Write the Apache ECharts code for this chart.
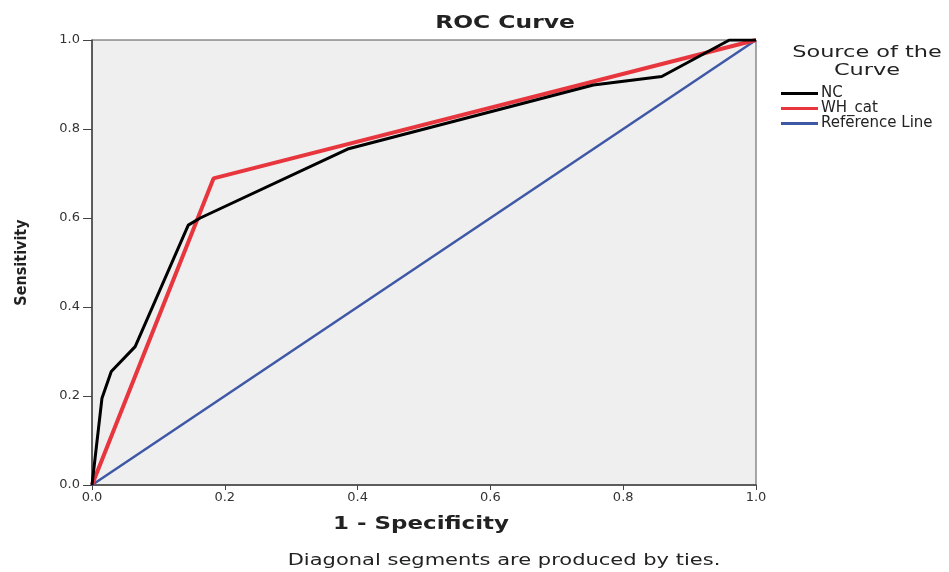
<!DOCTYPE html>
<html>
<head>
    <meta charset="utf-8">
    <title>ROC Curve</title>
    <script src="https://cdn.jsdelivr.net/npm/echarts@6/dist/echarts.min.js"></script>
    <style type="text/css">
        html, body { margin: 0; padding: 0; background: #fff; }
        #main { width: 949px; height: 572px; }
    </style>
</head>
<body>
<div id="main"></div>
<script type="text/javascript">
    // values
    var axisTicks = [0, 0.2, 0.4, 0.6, 0.8, 1.0];
    var ncFpr = [0, 0.015, 0.029, 0.065, 0.145, 0.163, 0.385, 0.755, 0.858, 0.96, 1.0];
    var ncTpr = [0, 0.195, 0.255, 0.311, 0.584, 0.600, 0.755, 0.899, 0.918, 1.0, 1.0];
    var whFpr = [0, 0.183, 1.0];
    var whTpr = [0, 0.689, 1.0];
    var refX = [0, 1];
    var refY = [0, 1];

    function pairs(xs, ys) {
        return xs.map(function (x, i) { return [x, ys[i]]; });
    }

    // the source picture is stretched sideways, so texts get a scaleX
    function wideText(x, y, text, size, weight, sx) {
        return {type: 'text', x: x, y: y, scaleX: sx,
            style: {text: text, fontSize: size, fontWeight: weight || 'normal', fill: '#222',
                fontFamily: 'DejaVu Sans', textAlign: 'center', textVerticalAlign: 'middle'}};
    }

    var chart = echarts.init(document.getElementById('main'));
    function tickFont(gap) {
        return {color: '#333', fontSize: 13, fontFamily: 'DejaVu Sans', margin: gap,
            formatter: function (v) { return v.toFixed(1); }};
    }

    chart.setOption({
        animation: false,
        backgroundColor: '#fff',
        grid: {left: 92, right: 193, top: 40, bottom: 87, show: true,
            backgroundColor: '#efefef', borderColor: '#555', borderWidth: 1},
        legend: {
            orient: 'vertical', left: 776, top: 81, itemGap: 0,
            itemWidth: 37, itemHeight: 3, icon: 'rect',
            textStyle: {fontSize: 15, color: '#222', fontFamily: 'DejaVu Sans', padding: [0, 0, 0, -2]},
            data: ['NC', 'WH_cat', 'Reference Line']
        },
        graphic: [
            wideText(505, 23, 'ROC Curve', 18, 'bold', 1.3),
            wideText(867, 53, 'Source of the', 16, 'normal', 1.4),
            wideText(867, 71, 'Curve', 16, 'normal', 1.4),
            wideText(421, 525, '1 - Specificity', 17, 'bold', 1.35),
            wideText(504, 561, 'Diagonal segments are produced by ties.', 15, 'normal', 1.4)
        ],
        xAxis: {
            type: 'value', min: 0, max: 1, interval: 0.2,
            axisLine: {show: true, lineStyle: {color: '#444', width: 1.5}},
            axisTick: {show: true, inside: false, length: 5, lineStyle: {color: '#444'}},
            axisLabel: tickFont(6),
            splitLine: {show: false}
        },
        yAxis: {
            type: 'value', min: 0, max: 1, interval: 0.2,
            name: 'Sensitivity', nameLocation: 'middle', nameGap: 62,
            nameTextStyle: {fontSize: 16, fontWeight: 'bold', color: '#222',
                fontFamily: 'DejaVu Sans Condensed'},
            axisLine: {show: true, lineStyle: {color: '#444', width: 1.5}},
            axisTick: {show: true, inside: false, length: 9, lineStyle: {color: '#444'}},
            axisLabel: tickFont(12),
            splitLine: {show: false}
        },
        series: [
            {name: 'Reference Line', type: 'line', data: pairs(refX, refY), showSymbol: false,
                color: '#3f58a6', lineStyle: {width: 2.5, color: '#3f58a6'}, z: 2},
            {name: 'WH_cat', type: 'line', data: pairs(whFpr, whTpr), showSymbol: false,
                color: '#e8363f', lineStyle: {width: 4, color: '#e8363f'}, z: 3},
            {name: 'NC', type: 'line', data: pairs(ncFpr, ncTpr), showSymbol: false,
                color: '#000', lineStyle: {width: 3, color: '#000'}, z: 4}
        ]
    });
</script>
</body>
</html>
